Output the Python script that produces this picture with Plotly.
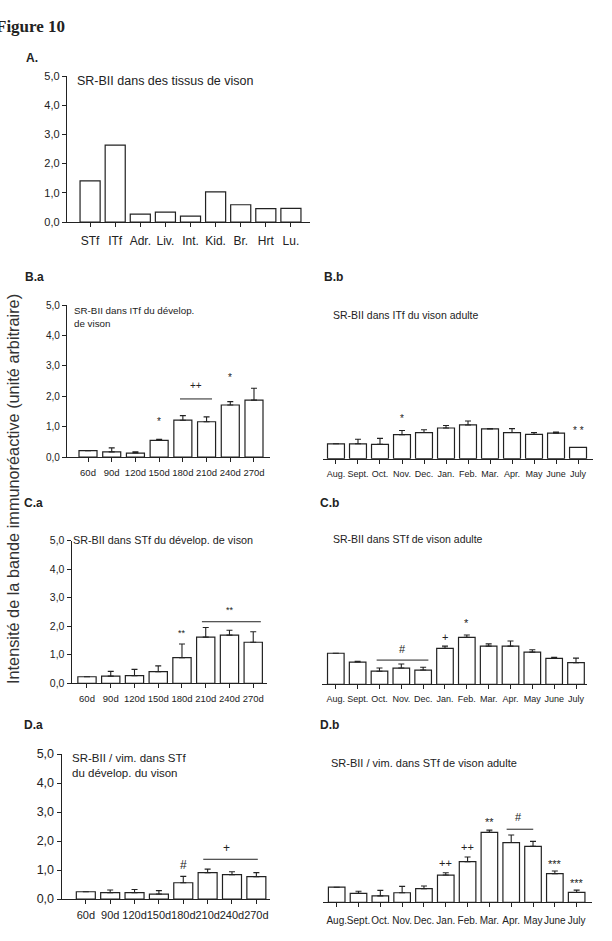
import plotly.graph_objects as go

W, H = 612, 941

# ---------------- data ----------------
tissues = ["STf", "ITf", "Adr.", "Liv.", "Int.", "Kid.", "Br.", "Hrt", "Lu."]
A_vals = [1.41, 2.63, 0.27, 0.34, 0.20, 1.03, 0.59, 0.46, 0.47]

ages = ["60d", "90d", "120d", "150d", "180d", "210d", "240d", "270d"]
months = ["Aug.", "Sept.", "Oct.", "Nov.", "Dec.", "Jan.", "Feb.", "Mar.", "Apr.", "May", "June", "July"]

Ba_vals = [0.21, 0.17, 0.13, 0.55, 1.21, 1.16, 1.71, 1.87]
Ba_err = [0.0, 0.13, 0.04, 0.03, 0.15, 0.16, 0.11, 0.39]

Bb_vals = [0.49, 0.49, 0.47, 0.79, 0.86, 1.01, 1.11, 0.98, 0.86, 0.80, 0.84, 0.37]
Bb_err = [0.0, 0.15, 0.20, 0.14, 0.09, 0.08, 0.13, 0.01, 0.13, 0.06, 0.04, 0.0]

Ca_vals = [0.23, 0.25, 0.27, 0.41, 0.90, 1.62, 1.69, 1.44]
Ca_err = [0.0, 0.17, 0.22, 0.20, 0.48, 0.34, 0.17, 0.37]

Cb_vals = [1.09, 0.78, 0.46, 0.57, 0.50, 1.26, 1.65, 1.34, 1.34, 1.13, 0.91, 0.76]
Cb_err = [0.0, 0.03, 0.11, 0.14, 0.10, 0.08, 0.08, 0.08, 0.18, 0.08, 0.04, 0.16]

Da_vals = [0.25, 0.22, 0.22, 0.17, 0.56, 0.91, 0.84, 0.77]
Da_err = [0.0, 0.09, 0.11, 0.12, 0.22, 0.12, 0.10, 0.14]

Db_vals = [0.52, 0.31, 0.22, 0.33, 0.47, 0.94, 1.40, 2.41, 2.06, 1.93, 0.99, 0.34]
Db_err = [0.0, 0.07, 0.19, 0.22, 0.09, 0.08, 0.16, 0.08, 0.26, 0.17, 0.09, 0.08]

y_ticks = [0, 1, 2, 3, 4, 5]
y_ticktext = ["0,0", "1,0", "2,0", "3,0", "4,0", "5,0"]

# significance marks: (text, x index, y value)
Ba_marks = [("*", 3, 1.16), ("++", 4.55, 2.34), ("*", 6, 2.60)]
Ba_lines = [(3.88, 5.23, 1.91)]
Bb_marks = [("*", 3, 1.31), ("* *", 11, 0.94)]
Ca_marks = [("**", 4, 1.75), ("**", 6.02, 2.57)]
Ca_lines = [(4.84, 7.32, 2.16)]
Cb_marks = [("#", 3.04, 1.24), ("+", 5, 1.67), ("*", 6, 2.14)]
Cb_lines = [(1.87, 4.24, 0.85)]
Da_marks = [("#", 4, 1.17), ("+", 5.78, 1.77)]
Da_lines = [(4.82, 7.06, 1.37)]
Db_marks = [("++", 5, 1.37), ("++", 6, 1.92), ("**", 7, 2.78), ("#", 8.32, 2.95),
            ("***", 10, 1.32), ("***", 11, 0.68)]
Db_lines = [(7.79, 9.01, 2.52)]

# ---------------- style ----------------
INK = "#222222"
SANS = "Liberation Sans, Arial, sans-serif"

fig = go.Figure()
annotations = []
shapes = []


def px_x(p):
    return p / W


def px_y(p):
    return 1 - p / H


def add_panel(idx, cats, vals, errs, xdom, xrange, ydom, bw, show_y,
              xfs, yfs, marks=(), lines=(), markfont=10, tickstand=2):
    xa = "xaxis" if idx == 1 else f"xaxis{idx}"
    ya = "yaxis" if idx == 1 else f"yaxis{idx}"
    xr = "x" if idx == 1 else f"x{idx}"
    yr = "y" if idx == 1 else f"y{idx}"
    tr = dict(
        x=cats, y=vals, width=bw, xaxis=xr, yaxis=yr,
        marker=dict(color="white", line=dict(color=INK, width=1.2)),
        showlegend=False, hoverinfo="skip",
    )
    if errs is not None:
        tr["error_y"] = dict(type="data", array=errs, arrayminus=[0] * len(errs),
                             symmetric=False, color=INK, thickness=1.1, width=3)
    fig.add_trace(go.Bar(**tr))
    fig.update_layout(**{
        xa: dict(domain=[px_x(xdom[0]), px_x(xdom[1])], range=xrange, type="category",
                 categoryorder="array", categoryarray=cats, anchor=yr,
                 showline=True, linecolor=INK, linewidth=1.3, ticks="outside",
                 ticklen=4, tickwidth=1.1, tickcolor=INK, showgrid=False, zeroline=False,
                 tickangle=0, automargin=False,
                 tickfont=dict(family=SANS, size=xfs, color=INK),
                 ticklabelstandoff=tickstand, fixedrange=True),
        ya: dict(domain=[px_y(ydom[0]), px_y(ydom[1])], range=[0, 5], anchor=xr,
                 tickvals=y_ticks, ticktext=y_ticktext, showgrid=False, zeroline=False,
                 showline=show_y, linecolor=INK, linewidth=1.3, automargin=False,
                 ticks="outside" if show_y else "", ticklen=4, tickwidth=1.1, tickcolor=INK,
                 showticklabels=show_y,
                 tickfont=dict(family=SANS, size=yfs, color=INK), fixedrange=True),
    })
    for t, xv, yv in marks:
        annotations.append(dict(text=t, x=xv, y=yv, xref=xr, yref=yr, showarrow=False,
                                xanchor="center", yanchor="middle",
                                font=dict(family=SANS, size=markfont, color=INK)))
    for x0, x1, yv in lines:
        shapes.append(dict(type="line", x0=x0, x1=x1, y0=yv, y1=yv, xref=xr, yref=yr,
                           line=dict(color=INK, width=1)))


# Panel A
add_panel(1, tissues, A_vals, None, (67, 310), [-0.92, 8.76], (222, 76), 0.8, True,
          12, 11, tickstand=3)
# B.a
add_panel(2, ages, Ba_vals, Ba_err, (67, 270), [-0.886, 7.675], (457, 305), 0.76, True,
          9.5, 10, Ba_marks, Ba_lines, markfont=10)
# B.b
add_panel(3, months, Bb_vals, Bb_err, (323, 593), [-0.59, 11.68], (458.7, 306.7), 0.77, False,
          9, 10, Bb_marks, (), markfont=10)
# C.a
add_panel(4, ages, Ca_vals, Ca_err, (71.7, 267), [-0.644, 7.58], (683.3, 540.8), 0.77, True,
          9.5, 10.5, Ca_marks, Ca_lines, markfont=9)
# C.b
add_panel(5, months, Cb_vals, Cb_err, (321.7, 586.7), [-0.646, 11.49], (684.3, 541.8), 0.76, False,
          9, 10, Cb_marks, Cb_lines, markfont=11)
# D.a
add_panel(6, ages, Da_vals, Da_err, (61.7, 270), [-0.99, 7.56], (899, 754), 0.78, True,
          11, 12.5, Da_marks, Da_lines, markfont=12)
# D.b
add_panel(7, months, Db_vals, Db_err, (323, 591.7), [-0.628, 11.69], (902.3, 757.3), 0.76, False,
          10, 11, Db_marks, Db_lines, markfont=11, tickstand=5)


def paper_text(text, x, y, size, family=SANS, bold=False, xanchor="left", angle=0, color=INK):
    if bold:
        text = f"<b>{text}</b>"
    annotations.append(dict(text=text, x=px_x(x), y=px_y(y), xref="paper", yref="paper",
                            showarrow=False, xanchor=xanchor, yanchor="middle",
                            textangle=angle, align="left",
                            font=dict(family=family, size=size, color=color)))


paper_text("Figure 10", -6, 27, 17, family="Liberation Serif, Times New Roman, serif", bold=True)
paper_text("A.", 24, 58, 12, bold=True)
paper_text("B.a", 23, 277, 12, bold=True)
paper_text("B.b", 322, 277, 12, bold=True)
paper_text("C.a", 22, 503, 12, bold=True)
paper_text("C.b", 318, 503, 12, bold=True)
paper_text("D.a", 22, 725, 12, bold=True)
paper_text("D.b", 318, 725, 12, bold=True)

paper_text("SR-BII dans des tissus de vison", 75, 81, 12.5)
paper_text("SR-BII dans ITf du dévelop.<br>de vison", 72, 317, 9.8)
paper_text("SR-BII dans ITf du vison adulte", 331, 315, 10.5)
paper_text("SR-BII dans STf du dévelop. de vison", 71, 540, 10.8)
paper_text("SR-BII dans STf de vison adulte", 331, 539, 10.5)
paper_text("SR-BII / vim. dans STf<br>du dévelop. du vison", 70, 765, 11.5)
paper_text("SR-BII / vim. dans STf de vison adulte", 329, 763, 11)

paper_text("Intensité de la bande immunoréactive (unité arbitraire)", 13, 489, 16.3,
           xanchor="center", angle=-90, color="#333333")

fig.update_layout(
    width=W, height=H, margin=dict(l=0, r=0, t=0, b=0),
    paper_bgcolor="white", plot_bgcolor="white",
    annotations=annotations, shapes=shapes, barmode="overlay",
    font=dict(family=SANS, color=INK),
)

fig.write_html("out.html", config={"displayModeBar": False},
               post_script="document.body.style.margin='0px';")
